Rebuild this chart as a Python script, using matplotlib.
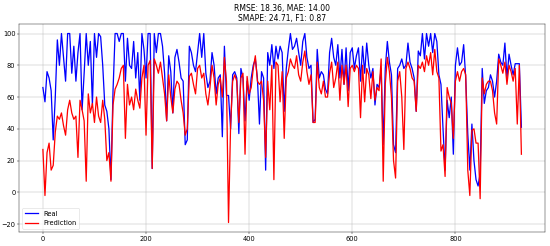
import numpy as np
import matplotlib
matplotlib.use("Agg")
import matplotlib.pyplot as plt

# values, one sample every 4 time steps
step = 4
real = [66, 57, 76, 72, 64, 33, 60, 96, 80, 100, 85, 70, 100, 100, 75, 92, 70, 88, 100, 52,
        75, 100, 80, 95, 55, 100, 85, 100, 98, 80, 55, 51, 40, 8, 64, 100, 100, 95, 100, 100,
        70, 97, 80, 78, 95, 72, 88, 58, 100, 90, 72, 100, 100, 15, 100, 88, 100, 100, 92, 75,
        45, 86, 76, 50, 85, 90, 82, 72, 70, 30, 33, 92, 88, 80, 76, 88, 100, 85, 100, 75,
        66, 70, 88, 80, 62, 72, 74, 35, 92, 61, 61, 40, 74, 76, 72, 37, 78, 72, 45, 70,
        58, 72, 80, 84, 72, 43, 76, 72, 14, 88, 80, 93, 78, 92, 84, 92, 88, 51, 78, 90,
        100, 90, 92, 97, 88, 80, 95, 100, 85, 78, 80, 44, 46, 90, 72, 76, 74, 65, 62, 88,
        97, 85, 80, 93, 72, 90, 68, 91, 64, 88, 91, 78, 86, 91, 70, 92, 75, 94, 80, 72,
        78, 55, 68, 66, 78, 30, 78, 95, 82, 74, 30, 25, 78, 80, 84, 78, 80, 94, 82, 78,
        72, 51, 89, 86, 100, 84, 100, 92, 100, 88, 100, 95, 74, 68, 40, 14, 58, 47, 60, 24,
        80, 91, 80, 82, 93, 72, 37, 14, 43, 20, 8, 4, 12, 78, 56, 64, 66, 74, 70, 60,
        70, 87, 82, 80, 94, 72, 87, 80, 74, 81, 81, 81, 41]
prediction = [27, -2, 25, 31, 14, 17, 38, 48, 46, 50, 42, 36, 52, 58, 50, 46, 48, 22, 58, 52,
              45, 7, 62, 50, 56, 44, 60, 48, 44, 58, 46, 20, 25, 7, 55, 65, 68, 72, 78, 80,
              34, 68, 55, 60, 52, 65, 58, 53, 72, 80, 36, 80, 83, 15, 84, 80, 75, 82, 72, 62,
              45, 74, 60, 50, 65, 70, 68, 58, 50, 36, 40, 73, 75, 68, 62, 78, 80, 72, 75, 62,
              55, 66, 80, 72, 55, 68, 72, 60, 85, 70, -19, 42, 70, 74, 70, 44, 72, 75, 24, 73,
              62, 66, 78, 86, 70, 68, 70, 58, 22, 70, 52, 80, 8, 82, 80, 57, 76, 34, 72, 76,
              84, 80, 78, 86, 74, 70, 82, 89, 76, 68, 74, 44, 44, 82, 66, 62, 70, 60, 60, 75,
              82, 66, 72, 82, 58, 80, 68, 80, 54, 78, 80, 76, 80, 78, 47, 80, 57, 78, 74, 59,
              76, 58, 66, 64, 84, 7, 68, 85, 76, 60, 20, 9, 70, 76, 60, 27, 78, 82, 78, 72,
              70, 51, 80, 78, 82, 76, 86, 80, 88, 74, 90, 76, 72, 26, 30, 10, 66, 60, 56, 34,
              70, 76, 70, 76, 78, 74, 14, -2, 39, 40, 31, 31, -4, 72, 62, 68, 70, 70, 64, 50,
              43, 84, 80, 75, 82, 68, 80, 76, 70, 78, 43, 80, 24]
title = "RMSE: 18.36, MAE: 14.00\nSMAPE: 24.71, F1: 0.87"

t = np.arange(len(real)) * step

fig = plt.figure(figsize=(15, 6.71))
ax = fig.add_axes([0.0345, 0.057, 0.957, 0.845])
ax.plot(t, real, color="blue", lw=2.5, label="Real")
ax.plot(t, prediction, color="red", lw=2.5, label="Prediction")
ax.set_title(title, fontsize=15)
ax.grid(True)
ax.set_yticks([-20, 0, 20, 40, 60, 80, 100])
ax.tick_params(labelsize=13)
ax.legend(loc="lower left", fontsize=13)

fig.savefig("out.png", dpi=550 / 15)
